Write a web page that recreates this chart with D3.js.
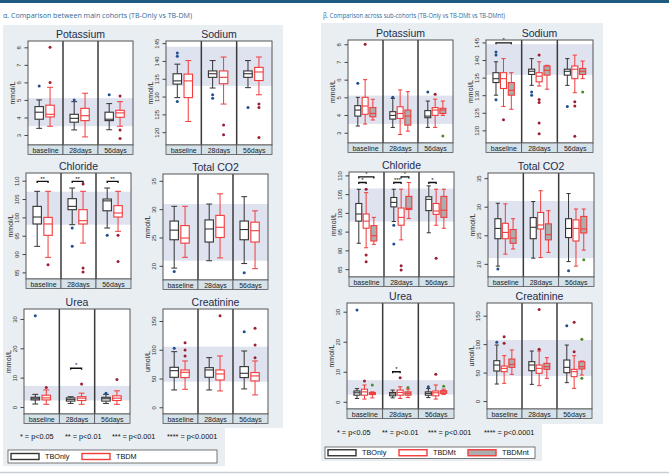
<!DOCTYPE html>
<html>
<head>
<meta charset="utf-8">
<script src="https://cdn.jsdelivr.net/npm/d3@7"></script>
<style>
body{margin:0;background:#fff}
svg{display:block}
</style>
</head>
<body>
<div id="viz-container"></div>
<script>
// categories
const times = ["baseline", "28days", "56days"];
const mainCohorts = ["TBOnly", "TBDM"];
const subCohorts = ["TBOnly", "TBDMt", "TBDMnt"];
const pLabels = ["* = p<0.05", "** = p<0.01", "*** = p<0.001", "**** = p<0.0001"];

// box rows: [whiskerLow, q1, median, q3, whiskerHigh, [outliers]]
// order: baseline cohorts, 28days cohorts, 56days cohorts

// ---- alpha: TBOnly vs TBDM
const potassiumA = [
  [3.38, 3.9, 4.3, 4.62, 5.0, [5.8]], [3.5, 4.03, 4.18, 4.7, 5.72, [6.0, 8.0]],
  [3.29, 3.73, 3.95, 4.18, 4.9, [5.0]], [2.89, 3.82, 4.1, 4.52, 5.38, []],
  [3.3, 3.82, 3.9, 4.3, 4.79, [5.3]], [3.5, 4.01, 4.26, 4.41, 4.9, [5.22, 3.29, 2.8]]
];
const sodiumA = [
  [129.7, 133.5, 134.4, 136.4, 139.1, [142.2, 141.3, 128.6]], [123, 129.7, 134.4, 136.3, 140.1, []],
  [132.4, 135.4, 136.4, 137.2, 140.1, [130.5, 129.5]], [127.9, 133.6, 135.4, 137.2, 141.1, [122, 119.3]],
  [132.5, 135.4, 136.4, 137.2, 140.1, [126.9]], [130.5, 134.5, 136.9, 138.2, 141.1, [127.9, 126.9, 118.5]]
];
const chlorideA = [
  [92.1, 98.2, 100.1, 103, 107.1, []], [89.1, 95.1, 98.2, 100, 107.1, [87.1]],
  [98, 102.1, 103, 105.1, 108, [97.1, 92.1]], [93, 98.2, 99.1, 102.1, 107.1, [109.1, 86.2, 85.1]],
  [97.1, 101.8, 104.5, 105, 108, [95.1]], [96.2, 100.1, 101.2, 103.2, 107.1, [95.1, 88]]
];
const co2A = [
  [19.6, 24.6, 26.3, 27.9, 30.5, [19.0]], [21.5, 24.0, 24.9, 27.1, 30.5, []],
  [20.9, 24.2, 26.5, 28.1, 30.9, []], [21.4, 25.0, 26.8, 28.9, 32.7, []],
  [20.4, 24.6, 26.4, 27.9, 32.2, [18.8]], [19.5, 24.2, 26.2, 27.7, 29.7, []]
];
const ureaA = [
  [1.0, 2.4, 2.8, 3.3, 4.3, [31.1]], [0.9, 2.4, 3.1, 4.0, 5.8, [6.6]],
  [1.2, 2.0, 2.6, 3.1, 3.5, []], [0.9, 2.2, 3.0, 3.5, 4.7, [7.8]],
  [1.2, 2.0, 2.8, 3.3, 4.3, [4.7]], [0.9, 2.2, 3.0, 3.8, 5.5, [9.4]]
];
const creatinineA = [
  [30.1, 52.1, 63.7, 69.5, 96.7, [102.5]], [31.3, 51.6, 60.8, 64.9, 80.5, [112.4, 99.6, 89.2]],
  [30.1, 52.1, 64.9, 68.9, 86.3, []], [28.4, 47.5, 57.9, 64.9, 89.2, [159.3]],
  [31.9, 51.6, 59.1, 70.7, 97.9, [131.5]], [21.5, 45.8, 54.5, 60.3, 80.5, [137.3, 108.3, 86.3]]
];

// ---- beta: TBOnly vs TBDMt vs TBDMnt
const potassiumB = [
  [3.38, 3.94, 4.28, 4.53, 5.0, [5.8]], [3.49, 4.04, 4.51, 5.0, 6.0, [8.0]], [3.72, 3.9, 4.09, 4.42, 4.89, []],
  [3.3, 3.77, 3.98, 4.19, 4.94, [5.0]], [2.9, 3.81, 4.09, 4.47, 5.42, []], [3.09, 3.43, 3.94, 4.28, 5.32, []],
  [3.3, 3.85, 3.94, 4.25, 4.79, [5.3]], [3.3, 3.98, 4.28, 4.42, 4.9, [5.17]], [3.98, 4.09, 4.28, 4.38, 4.79, [2.81]]
];
const sodiumB = [
  [130, 133.6, 134.7, 136.4, 139.5, [142.3, 141.4, 128.7]], [126.8, 131.9, 134.7, 136.4, 140.4, [123]], [126, 130, 131.4, 133.6, 136.4, []],
  [132.8, 135.9, 136.8, 137.4, 140.4, [130.9, 130]], [132.6, 133.8, 135.4, 136.4, 139.5, [141.4, 128.8, 127.9, 122.1, 119]], [131.7, 135.7, 137.1, 138.3, 138.5, []],
  [132.8, 135.7, 136.8, 137.4, 140.4, [126.8]], [130.7, 134.7, 137.4, 138.3, 141.4, [128.1, 126.9, 118.3]], [134.7, 135.9, 136.8, 137.6, 139.7, [130.9]]
];
const chlorideB = [
  [91.9, 97.8, 99.7, 102.5, 106.3, []], [90.7, 95.9, 97.8, 99.7, 105.4, [106.3, 88.8, 87]], [91.6, 92.5, 93.9, 96.6, 98.8, []],
  [97.7, 101.6, 102.8, 104.1, 106.3, [96.7, 91.7]], [92.8, 96.7, 98.8, 101.3, 106.3, [85.9, 84.8]], [98.5, 100.9, 101.2, 104.4, 108.1, []],
  [94.7, 100.6, 103.6, 104.3, 107.2, []], [96.7, 99.6, 100.5, 102.5, 106.3, [87.9]], [95.9, 98.8, 100.7, 104.4, 106.3, []]
];
const co2B = [
  [19.6, 24.4, 26.2, 27.9, 30.6, [19.1]], [21.7, 24.4, 25.5, 27.1, 30.5, []], [22.6, 23.6, 24.5, 26.0, 27.9, []],
  [21.0, 24.4, 26.4, 28.1, 30.9, []], [21.1, 26.1, 26.8, 29.0, 32.8, []], [22.0, 24.2, 25.1, 27.0, 29.3, []],
  [20.4, 24.6, 26.2, 27.9, 32.3, [18.8]], [19.6, 24.0, 26.2, 27.7, 29.6, []], [22.4, 25.4, 26.1, 28.3, 29.6, [20.7]]
];
const ureaB = [
  [1.1, 2.2, 3.0, 3.6, 4.4, [30.6]], [0.9, 2.2, 3.3, 4.2, 5.6, [6.9]], [1.3, 2.4, 2.8, 3.1, 3.3, [5.6]],
  [1.3, 2.0, 2.6, 3.1, 3.9, []], [1.1, 2.2, 3.1, 3.9, 5.0, [8.0]], [1.4, 2.2, 2.8, 3.3, 4.2, [4.8]],
  [1.4, 2.2, 2.8, 3.3, 4.4, [5.0]], [0.9, 2.0, 3.0, 3.6, 5.6, [9.2]], [2.4, 2.8, 3.3, 3.7, 4.2, [5.2]]
];
const creatinineB = [
  [29.9, 52.8, 63.3, 70.9, 98.4, [103.1]], [31.1, 51.6, 57.4, 61.5, 79.7, [113.1, 101.4]], [46.9, 59.2, 64.5, 73.8, 89.7, []],
  [29.3, 53.3, 63.3, 69.2, 87.9, []], [27.0, 48.7, 57.4, 63.3, 87.9, [161, 90.8]], [39.9, 55.7, 60.4, 66.2, 76.2, []],
  [32.3, 49.8, 59.2, 72.1, 98.4, [132.4]], [22.3, 42.8, 51.6, 55.7, 79.7, [138.3, 86.7]], [45.7, 56.3, 60.4, 69.2, 70.3, [108.4, 39.9]]
];

// reference ranges (shaded band) [low, high]
const refA = [[3.5, 5.1], [133, 144], [98, 107], [20.9, 30.9], [2.2, 7.2], [44.6, 105.4]];
const refB = [[3.5, 5.1], [135.8, 144.5], [97.7, 106.5], [21, 31], [2.4, 7.2], [44, 107.2]];

// significance brackets: [time index, from cohort, to cohort, value, label]
const sigChlorideA = [[0, 0, 1, 109.8, "**"], [1, 0, 1, 109.8, "**"], [2, 0, 1, 109.8, "**"]];
const sigUreaA = [[1, 0, 1, 13.2, "*"]];
const sigSodiumB = [[0, 0, 2, 144.9, "*"]];
const sigChlorideB = [[0, 0, 1, 108.1, "*"], [0, 0, 2, 109.6, "*"], [1, 0, 1, 108.1, "***"], [1, 1, 2, 109.6, "*"], [2, 0, 1, 108.1, "*"]];
const sigUreaB = [[1, 0, 1, 10.0, "*"]];

// ---------------------------------------------------------------
let viz = d3.select("#viz-container")
    .append("svg")
        .attr("width", 669)
        .attr("height", 474)
        .style("background-color", "white")
;

const FONT = "'Liberation Sans', Arial, sans-serif";
const strokeCol = ["#333333", "#f23b3b", "#f23b3b"];
const fillCol = ["white", "white", "#adadad"];
const outCol = ["#1f4f8f", "#9c1f33", "#4f8a2a"];

// top bar + panel backgrounds
viz.append("rect").attr("x", 0).attr("y", 0).attr("width", 669).attr("height", 3).attr("fill", "#1f5b80");
viz.append("path")
    .attr("d", "M3,25H283V428H225V466H3Z")
    .attr("fill", "#e8eef2");
viz.append("path")
    .attr("d", "M321,23H603V424H542V461H321Z")
    .attr("fill", "#e8eef2");
viz.append("line").attr("x1", 0).attr("x2", 669).attr("y1", 472.5).attr("y2", 472.5)
    .attr("stroke", "#c9cfd4").attr("stroke-width", 1.5);

viz.append("text").attr("x", 3).attr("y", 18)
    .attr("font-family", "'Open Sans', sans-serif").attr("font-size", 7).attr("fill", "#2c6b99")
    .attr("textLength", 189).attr("lengthAdjust", "spacingAndGlyphs")
    .text("α. Comparison between main cohorts (TB-Only vs TB-DM)");
viz.append("text").attr("x", 323).attr("y", 18)
    .attr("font-family", "'Open Sans', sans-serif").attr("font-size", 7).attr("fill", "#2c6b99")
    .attr("textLength", 182).attr("lengthAdjust", "spacingAndGlyphs")
    .text("β. Comparison across sub-cohorts (TB-Only vs TB-DMt vs TB-DMnt)");

function drawChart(spec, cohorts, offsets, boxFrac){
    let px = spec.pos[0], py = spec.pos[1], pw = spec.pos[2], ph = spec.pos[3];
    let g = viz.append("g");
    let x = d3.scaleBand().domain(times).range([px, px + pw]);
    let y = d3.scaleLinear().domain(spec.dom).range([py + ph, py]);
    let gw = x.bandwidth();
    let bw = gw * boxFrac;
    let cx = (t, c) => x(times[t]) + offsets[c] * gw;

    g.append("text")
        .attr("x", px + pw / 2).attr("y", py - 3.5)
        .attr("text-anchor", "middle")
        .attr("font-family", FONT).attr("font-size", 10.5).attr("fill", "#1e2b4c")
        .text(spec.title);

    g.append("rect").attr("x", px).attr("y", py).attr("width", pw).attr("height", ph).attr("fill", "white");
    g.append("rect")
        .attr("x", px).attr("width", pw)
        .attr("y", y(spec.band[1])).attr("height", y(spec.band[0]) - y(spec.band[1]))
        .attr("fill", "#dfe3ef");

    // separators between time groups
    g.selectAll(".sep").data(times.slice(1)).enter().append("line")
        .attr("x1", d => x(d)).attr("x2", d => x(d))
        .attr("y1", py).attr("y2", py + ph)
        .attr("stroke", "#3a3a3a").attr("stroke-width", 1.5);

    let rows = spec.data.map(function(d, i){
        return {t: Math.floor(i / cohorts.length), c: i % cohorts.length,
                lo: d[0], q1: d[1], med: d[2], q3: d[3], hi: d[4], out: d[5]};
    });

    let boxes = g.selectAll(".box").data(rows).enter().append("g")
        .attr("transform", d => "translate(" + cx(d.t, d.c) + ",0)");

    boxes.append("line").attr("x1", 0).attr("x2", 0)
        .attr("y1", d => y(d.lo)).attr("y2", d => y(d.q1))
        .attr("stroke", d => strokeCol[d.c]).attr("stroke-width", 1);
    boxes.append("line").attr("x1", 0).attr("x2", 0)
        .attr("y1", d => y(d.q3)).attr("y2", d => y(d.hi))
        .attr("stroke", d => strokeCol[d.c]).attr("stroke-width", 1);
    boxes.append("line").attr("x1", -bw * 0.35).attr("x2", bw * 0.35)
        .attr("y1", d => y(d.lo)).attr("y2", d => y(d.lo))
        .attr("stroke", d => strokeCol[d.c]).attr("stroke-width", 1);
    boxes.append("line").attr("x1", -bw * 0.35).attr("x2", bw * 0.35)
        .attr("y1", d => y(d.hi)).attr("y2", d => y(d.hi))
        .attr("stroke", d => strokeCol[d.c]).attr("stroke-width", 1);
    boxes.append("rect")
        .attr("x", -bw / 2).attr("width", bw)
        .attr("y", d => y(d.q3)).attr("height", d => y(d.q1) - y(d.q3))
        .attr("fill", d => fillCol[d.c])
        .attr("stroke", d => strokeCol[d.c]).attr("stroke-width", 1.1);
    boxes.append("line").attr("x1", -bw / 2).attr("x2", bw / 2)
        .attr("y1", d => y(d.med)).attr("y2", d => y(d.med))
        .attr("stroke", d => strokeCol[d.c]).attr("stroke-width", 1.1);
    boxes.selectAll(".out").data(d => d.out.map(v => ({v: v, c: d.c}))).enter().append("circle")
        .attr("cx", 0).attr("cy", d => y(d.v)).attr("r", 1.5)
        .attr("fill", d => outCol[d.c]);

    // significance brackets
    (spec.sig || []).forEach(function(s){
        let x1 = cx(s[0], s[1]), x2 = cx(s[0], s[2]), yy = y(s[3]);
        g.append("path")
            .attr("d", "M" + x1 + "," + (yy + 1.5) + "V" + yy + "H" + x2 + "V" + (yy + 1.5))
            .attr("fill", "none").attr("stroke", "#111").attr("stroke-width", 1.3);
        g.append("text")
            .attr("x", (x1 + x2) / 2).attr("y", yy - 0.8)
            .attr("text-anchor", "middle")
            .attr("font-family", FONT).attr("font-size", 6).attr("fill", "#111")
            .text(s[4]);
    });

    g.append("rect").attr("x", px).attr("y", py).attr("width", pw).attr("height", ph)
        .attr("fill", "none").attr("stroke", "#555").attr("stroke-width", 1);

    // category strip
    g.selectAll(".strip").data(times).enter().append("rect")
        .attr("x", d => x(d)).attr("y", py + ph).attr("width", gw).attr("height", 9.5)
        .attr("fill", "#d6e2ea").attr("stroke", "#555").attr("stroke-width", 0.8);
    g.selectAll(".stripText").data(times).enter().append("text")
        .attr("x", d => x(d) + gw / 2).attr("y", py + ph + 7.6)
        .attr("text-anchor", "middle")
        .attr("font-family", FONT).attr("font-size", 7).attr("fill", "#222")
        .text(d => d);

    // y axis with rotated labels
    let ax = g.append("g")
        .attr("transform", "translate(" + px + ",0)")
        .call(d3.axisLeft(y).tickValues(spec.ticks).tickFormat(d3.format("d")).tickSize(3.5).tickSizeOuter(0));
    ax.select(".domain").remove();
    ax.selectAll("line").attr("stroke", "#444");
    ax.selectAll("text")
        .attr("transform", "rotate(-90)")
        .attr("x", 0).attr("y", -7).attr("dy", 0)
        .attr("text-anchor", "middle")
        .attr("font-family", FONT).attr("font-size", 6).attr("fill", "#333");

    g.append("text")
        .attr("transform", "translate(" + (px - 13) + "," + (py + ph / 2) + ") rotate(-90)")
        .attr("text-anchor", "middle")
        .attr("font-family", FONT).attr("font-size", 7).attr("fill", "#222")
        .text(spec.unit);
}

const chartsA = [
    {title: "Potassium", unit: "mmol/L", pos: [28, 41, 105, 104], dom: [2.43, 8.36], ticks: [3, 4, 5, 6, 7, 8], band: refA[0], data: potassiumA},
    {title: "Sodium", unit: "mmol/L", pos: [166, 41, 106, 104], dom: [116.4, 145.6], ticks: [120, 125, 130, 135, 140, 145], band: refA[1], data: sodiumA},
    {title: "Chloride", unit: "mmol/L", pos: [26, 173, 105, 106], dom: [83.2, 112.1], ticks: [85, 90, 95, 100, 105, 110], band: refA[2], data: chlorideA, sig: sigChlorideA},
    {title: "Total CO2", unit: "mmol/L", pos: [163, 174, 105, 106], dom: [17.5, 36.2], ticks: [20, 25, 30, 35], band: refA[3], data: co2A},
    {title: "Urea", unit: "mmol/L", pos: [24, 309, 106, 105], dom: [-2.4, 33.4], ticks: [0, 10, 20, 30], band: refA[4], data: ureaA, sig: sigUreaA},
    {title: "Creatinine", unit: "umol/L", pos: [163, 309, 105, 105], dom: [-11.7, 170.9], ticks: [0, 50, 100, 150], band: refA[5], data: creatinineA}
];
const chartsB = [
    {title: "Potassium", unit: "mmol/L", pos: [348, 40, 105, 103], dom: [2.42, 8.24], ticks: [3, 4, 5, 6, 7, 8], band: refB[0], data: potassiumB},
    {title: "Sodium", unit: "mmol/L", pos: [486, 40, 107, 103], dom: [116.4, 145.7], ticks: [120, 125, 130, 135, 140, 145], band: refB[1], data: sodiumB, sig: sigSodiumB},
    {title: "Chloride", unit: "mmol/L", pos: [349, 172, 105, 105], dom: [82.9, 110.9], ticks: [85, 90, 95, 100, 105, 110], band: refB[2], data: chlorideB, sig: sigChlorideB},
    {title: "Total CO2", unit: "mmol/L", pos: [488, 173, 106, 104], dom: [17.7, 35.9], ticks: [20, 25, 30, 35], band: refB[3], data: co2B},
    {title: "Urea", unit: "mmol/L", pos: [347, 303, 107, 106], dom: [-2.4, 32.9], ticks: [0, 10, 20, 30], band: refB[4], data: ureaB, sig: sigUreaB},
    {title: "Creatinine", unit: "umol/L", pos: [487, 303, 105, 106], dom: [-14, 172.3], ticks: [0, 50, 100, 150], band: refB[5], data: creatinineB}
];

chartsA.forEach(c => drawChart(c, mainCohorts, [0.32, 0.63], 0.24));
chartsB.forEach(c => drawChart(c, subCohorts, [0.28, 0.49, 0.71], 0.17));

// footnotes
function drawFootnote(xs, yy){
    viz.selectAll(null).data(pLabels).enter().append("text")
        .attr("x", (d, i) => xs[i]).attr("y", yy)
        .attr("font-family", FONT).attr("font-size", 7.3).attr("fill", "#111")
        .text(d => d);
}
drawFootnote([20, 65, 112, 167], 438.5);
drawFootnote([337, 382, 428, 484], 434.5);

// legends
function drawLegend(box, items, cohortsList){
    viz.append("rect")
        .attr("x", box[0]).attr("y", box[1]).attr("width", box[2]).attr("height", box[3])
        .attr("fill", "white").attr("stroke", "#555").attr("stroke-width", 0.8);
    let lg = viz.selectAll(null).data(cohortsList).enter().append("g")
        .attr("transform", (d, i) => "translate(" + items[i] + "," + (box[1] + box[3] / 2) + ")");
    lg.append("rect")
        .attr("x", 0).attr("y", -3).attr("width", 28).attr("height", 6)
        .attr("fill", (d, i) => fillCol[i]).attr("stroke", (d, i) => strokeCol[i]).attr("stroke-width", 1.4);
    lg.append("text")
        .attr("x", 34).attr("y", 2.6)
        .attr("font-family", FONT).attr("font-size", 7.3).attr("fill", "#111")
        .text(d => d);
}
drawLegend([8, 450, 209, 13], [11, 82], mainCohorts);
drawLegend([325, 447, 210, 11.5], [328, 399, 468], subCohorts);
</script>
</body>
</html>
